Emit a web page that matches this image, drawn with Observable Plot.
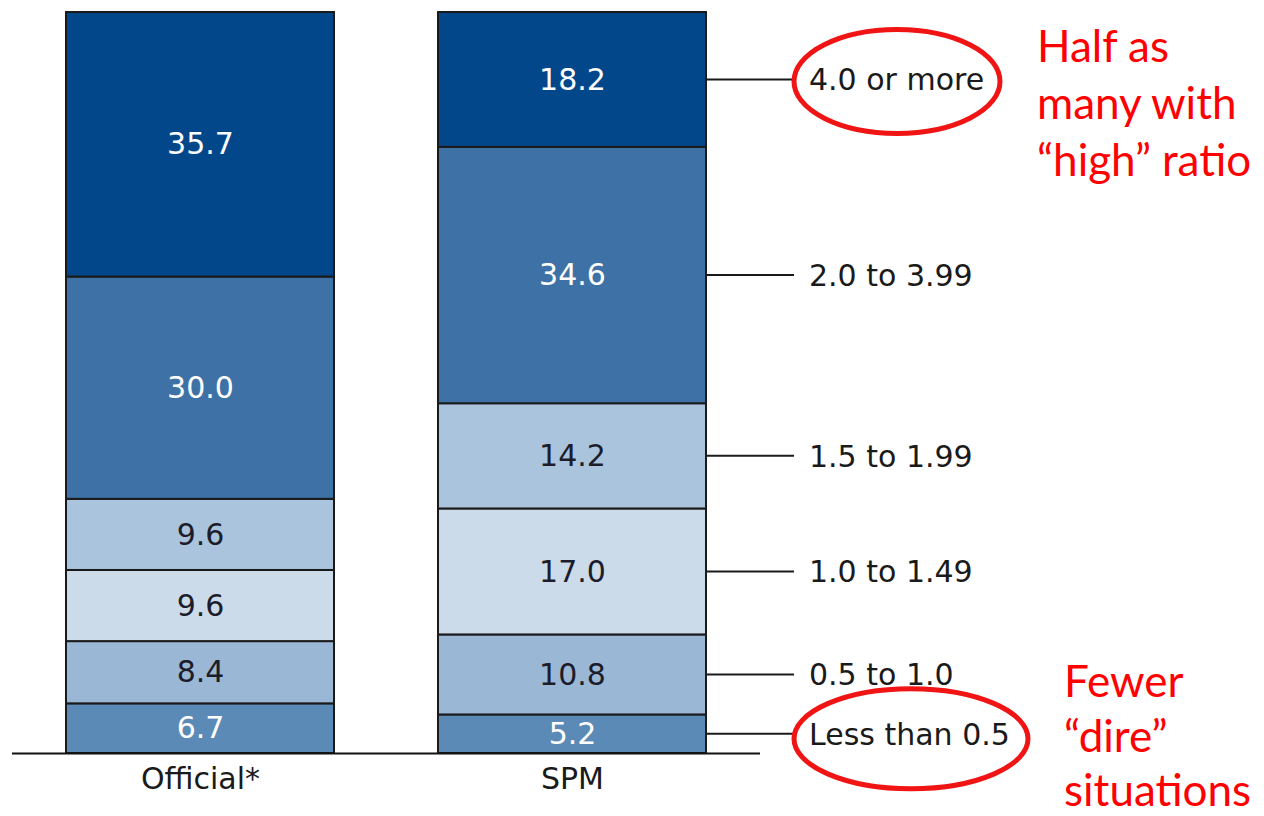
<!DOCTYPE html>
<html>
<head>
<meta charset="utf-8">
<script src="https://cdn.jsdelivr.net/npm/d3@7"></script>
<script src="https://cdn.jsdelivr.net/npm/@observablehq/plot@0.6"></script>
<style>
  body { margin: 0; background: #fff; }
  #chart { width: 1264px; height: 816px; }
</style>
</head>
<body>
<div id="chart"></div>
<script>
// Poverty-line ratio groups, listed from the bottom of each bar to the top
const measures = ["Official*", "SPM"];
const ratioBands = ["Less than 0.5", "0.5 to 1.0", "1.0 to 1.49", "1.5 to 1.99", "2.0 to 3.99", "4.0 or more"];
const officialShares = [6.7, 8.4, 9.6, 9.6, 30.0, 35.7];
const spmShares = [5.2, 10.8, 17.0, 14.2, 34.6, 18.2];
const bandColors = ["#5b8ab6", "#9ab7d5", "#cbdbea", "#a9c4dc", "#3e72a6", "#03478b"];
const darkBands = ["Less than 0.5", "2.0 to 3.99", "4.0 or more"];

// Callout notes
const highNote = ["Half as", "many with", "\u201chigh\u201d ratio"];
const direNote = ["Fewer", "\u201cdire\u201d", "situations"];

const rows = [
  ...ratioBands.map((band, i) => ({measure: measures[0], band, share: officialShares[i]})),
  ...ratioBands.map((band, i) => ({measure: measures[1], band, share: spmShares[i]}))
];

const isDark = (d) => darkBands.includes(d.band);
const fmt = (d) => d.share.toFixed(1);

const plot = Plot.plot({
  width: 1264,
  height: 816,
  marginTop: 12,
  marginBottom: 63,
  marginLeft: 12,
  marginRight: 504,
  style: {fontFamily: "DejaVu Sans, sans-serif", fontSize: "30px", color: "#1a1a1a", background: "#fff"},
  x: {domain: measures, range: [66, 706.5], paddingInner: 0.28, paddingOuter: 0, label: null, tickSize: 0, tickPadding: 14},
  y: {domain: [0, 100], axis: null},
  color: {domain: ratioBands, range: bandColors},
  marks: [
    Plot.barY(rows, Plot.stackY({x: "measure", y: "share", fill: "band", stroke: "#1a1a1a", strokeWidth: 2})),
    // value labels: white on the dark bands, near-black on the pale ones
    Plot.text(rows, Plot.stackY({
      x: "measure", y: "share", text: (d) => (isDark(d) ? fmt(d) : null),
      fill: "#ffffff", fontSize: 30
    })),
    Plot.text(rows, Plot.stackY({
      x: "measure", y: "share", text: (d) => (isDark(d) ? null : fmt(d)),
      fill: "#1c1c2a", fontSize: 30
    })),
    Plot.ruleY([0], {stroke: "#111", strokeWidth: 2})
  ]
});

document.getElementById("chart").append(plot);

// Band labels with leader lines to the right of the SPM bar
const xs = plot.scale("x");
const ys = plot.scale("y");
const svg = d3.select(plot);
const barRight = xs.apply("SPM") + xs.bandwidth;

let cum = 0;
const spmMids = spmShares.map((v) => { const m = cum + v / 2; cum += v; return ys.apply(m); });

const guide = svg.append("g").attr("text-anchor", "start");
ratioBands.forEach((band, i) => {
  const y = spmMids[i];
  guide.append("line")
    .attr("x1", barRight).attr("x2", barRight + 88)
    .attr("y1", y).attr("y2", y)
    .attr("stroke", "#1a1a1a").attr("stroke-width", 2);
  guide.append("text")
    .attr("x", barRight + 103).attr("y", y)
    .attr("dy", "0.36em")
    .attr("fill", "#1a1a1a")
    .attr("font-size", 30)
    .text(band);
});

// Red highlight ellipses around the extreme bands, with their notes
const notes = svg.append("g").attr("text-anchor", "start");
const topY = spmMids[ratioBands.length - 1];
const bottomY = spmMids[0];
notes.append("ellipse")
  .attr("cx", barRight + 191).attr("cy", topY + 2)
  .attr("rx", 103).attr("ry", 52)
  .attr("fill", "none").attr("stroke", "#f01414").attr("stroke-width", 5);
notes.append("ellipse")
  .attr("cx", barRight + 205).attr("cy", bottomY + 5)
  .attr("rx", 117).attr("ry", 50)
  .attr("fill", "none").attr("stroke", "#f01414").attr("stroke-width", 5);

const noteStyle = (sel) => sel
  .attr("fill", "#ff0000")
  .attr("font-family", "Lato, 'Open Sans', sans-serif")
  .attr("font-size", 44);

highNote.forEach((line, i) => {
  notes.append("text").call(noteStyle)
    .attr("x", 1037).attr("y", 62 + i * 57)
    .text(line);
});
direNote.forEach((line, i) => {
  notes.append("text").call(noteStyle)
    .attr("x", 1064).attr("y", 697 + i * 54.5)
    .text(line);
});
</script>
</body>
</html>
